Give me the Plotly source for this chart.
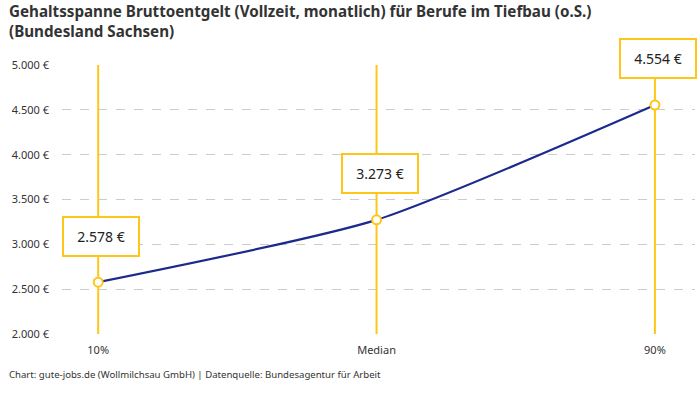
import plotly.graph_objects as go

# Gehaltsspanne, Werte
categories = ["10%", "Median", "90%"]
salaries = [2578, 3273, 4554]
label_texts = ["2.578 €", "3.273 €", "4.554 €"]
y_ticks = [2000, 2500, 3000, 3500, 4000, 4500, 5000]
y_tick_text = ["2.000 €", "2.500 €", "3.000 €", "3.500 €", "4.000 €", "4.500 €", "5.000 €"]
y_min, y_max = 2000, 5000

FONT = "Noto Sans"
YELLOW = "#FFC61A"
BLUE = "#1b2a8c"

fig = go.Figure()

# yellow vertical lines at each category
for c in categories:
    fig.add_trace(go.Scatter(x=[c, c], y=[y_min, y_max], mode="lines",
                             line=dict(color=YELLOW, width=2),
                             hoverinfo="skip", showlegend=False))

fig.add_trace(go.Scatter(x=categories, y=salaries, mode="lines",
                         line=dict(color=BLUE, width=2.2, shape="spline", smoothing=0.6),
                         hoverinfo="skip", showlegend=False))

fig.add_trace(go.Scatter(x=categories, y=salaries, mode="markers",
                         marker=dict(size=9, color="white", line=dict(color=YELLOW, width=2)),
                         showlegend=False))

for c, v, t in zip(categories, salaries, label_texts):
    fig.add_annotation(x=c, y=v, text=t, showarrow=False, yshift=46, xshift=3,
                       font=dict(family=FONT, size=14, color="#222"),
                       bgcolor="white", bordercolor=YELLOW, borderwidth=2,
                       borderpad=1, width=72, height=35)

# title as annotation (two lines)
fig.add_annotation(xref="paper", yref="paper", x=-0.087, y=1.244,
                   xanchor="left", yanchor="top", align="left", showarrow=False,
                   text="<b>Gehaltsspanne Bruttoentgelt (Vollzeit, monatlich) für Berufe im Tiefbau (o.S.)<br>(Bundesland Sachsen)</b>",
                   font=dict(family=FONT, size=15.2, color="#333"))

fig.add_annotation(xref="paper", yref="paper", x=-0.087, y=-0.152,
                   xanchor="left", yanchor="middle", showarrow=False,
                   text="Chart: gute-jobs.de (Wollmilchsau GmbH) | Datenquelle: Bundesagentur für Arbeit",
                   font=dict(family=FONT, size=9.6, color="#333"))

fig.update_layout(
    width=700, height=400,
    margin=dict(l=62, r=5, t=65, b=66),
    paper_bgcolor="white", plot_bgcolor="white",
    font=dict(family=FONT, size=11, color="#333"),
)

fig.update_xaxes(type="category", range=[-0.13, 2.144], showgrid=False,
                 showline=False, zeroline=False, ticks="", ticklabelstandoff=8,
                 tickfont=dict(size=11, color="#333"))
fig.update_yaxes(range=[y_min, y_max], tickvals=y_ticks, ticktext=y_tick_text,
                 showgrid=True, gridcolor="#cccccc", griddash="dash", gridwidth=1,
                 zeroline=False, showline=False, ticks="", ticklabelstandoff=12,
                 tickfont=dict(size=11, color="#333"))

fig.write_html("out.html", config={"displayModeBar": False},
               post_script="document.body.style.margin='0';")
